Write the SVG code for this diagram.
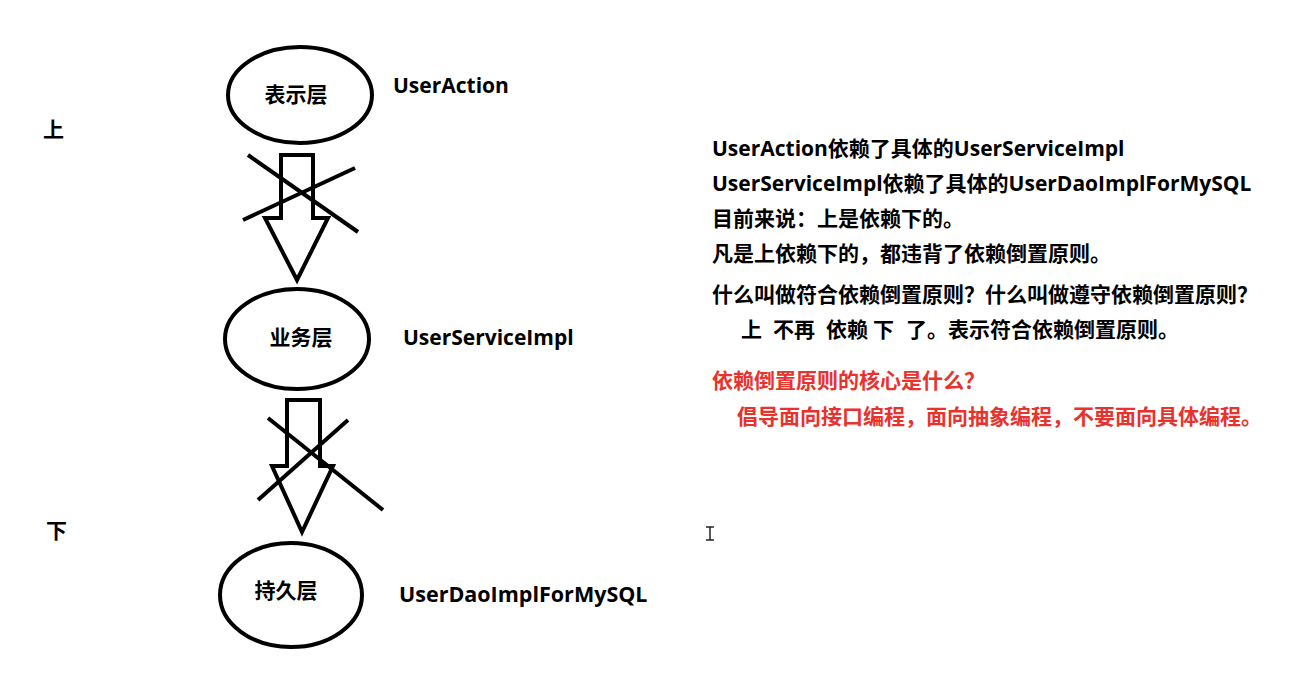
<svg xmlns="http://www.w3.org/2000/svg" width="1310" height="681" viewBox="0 0 1310 681">
<style>
.t{font-family:"Open Sans","Noto Sans CJK SC",sans-serif;font-weight:bold;font-size:21px;fill:#000}
.r{fill:#e8322d}
.node{fill:none;stroke:#000;stroke-width:4}
.arr{fill:none;stroke:#000;stroke-width:4;stroke-linejoin:miter}
.x{stroke:#000;stroke-width:4;stroke-linecap:butt}
</style>
<rect width="1310" height="681" fill="#fff"/>
<g id="n1">
<ellipse class="node" cx="300" cy="95" rx="72" ry="48"/>
<text class="t" x="296" y="102" text-anchor="middle">表示层</text>
</g>
<g id="n2">
<ellipse class="node" cx="297" cy="339" rx="72" ry="50"/>
<text class="t" x="301" y="345" text-anchor="middle">业务层</text>
</g>
<g id="n3">
<ellipse class="node" cx="291" cy="595" rx="71" ry="52"/>
<text class="t" x="286" y="598" text-anchor="middle">持久层</text>
</g>
<g id="connectors">
<path class="arr" d="M281,155 H313 V218 H328 L297,280 L265,218 H281 Z"/>
<line class="x" x1="248" y1="155" x2="358" y2="232"/>
<line class="x" x1="243" y1="220" x2="355" y2="168"/>
<path class="arr" d="M287,400 H320 V466 H333 L302,532 L272,466 H287 Z"/>
<line class="x" x1="268" y1="418" x2="383" y2="510"/>
<line class="x" x1="258" y1="500" x2="348" y2="420"/>
</g>
<g id="labels">
<text class="t" x="393" y="93">UserAction</text>
<text class="t" x="403" y="345">UserServiceImpl</text>
<text class="t" x="399" y="602" style="font-size:21.5px">UserDaoImplForMySQL</text>
<text class="t" x="43" y="137">上</text>
<text class="t" x="46" y="538">下</text>
</g>
<g id="notes">
<text class="t" x="712" y="156">UserAction依赖了具体的UserServiceImpl</text>
<text class="t" x="712" y="191">UserServiceImpl依赖了具体的UserDaoImplForMySQL</text>
<text class="t" x="712" y="226">目前来说：上是依赖下的。</text>
<text class="t" x="712" y="261">凡是上依赖下的，都违背了依赖倒置原则。</text>
<text class="t" x="712" y="302">什么叫做符合依赖倒置原则？什么叫做遵守依赖倒置原则？</text>
<text class="t" y="337"><tspan x="741">上</tspan><tspan x="773">不再</tspan><tspan x="826">依赖</tspan><tspan x="873">下</tspan><tspan x="906">了。表示符合依赖倒置原则。</tspan></text>
<text class="t r" x="712" y="388">依赖倒置原则的核心是什么？</text>
<text class="t r" x="737" y="424">倡导面向接口编程，面向抽象编程，不要面向具体编程。</text>
</g>
<path d="M706,527 H714 M710,527 V540 M706,540 H714" stroke="#222" stroke-width="1.5" fill="none"/>
</svg>
